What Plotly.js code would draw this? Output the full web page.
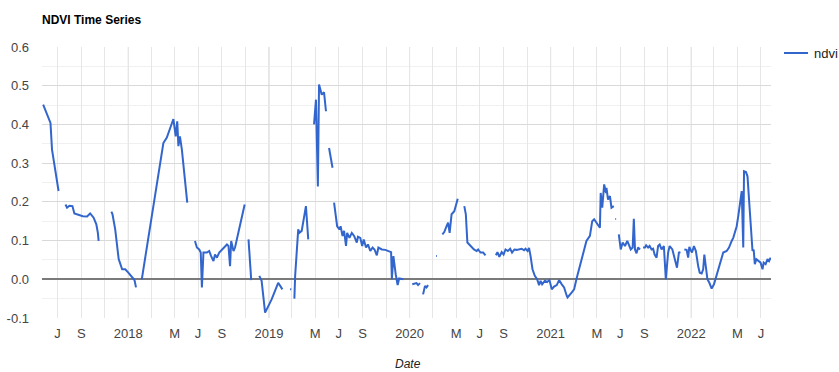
<!DOCTYPE html>
<html>
<head>
<meta charset="utf-8">
<script src="https://cdn.plot.ly/plotly-3.0.1.min.js"></script>
<style>
html,body{margin:0;padding:0;background:#fff;}
#chart{width:839px;height:372px;}
</style>
</head>
<body>
<div id="chart"></div>
<script>
// ---- data (null = gap in the series) ----
const dates = [
'2017-05-25','2017-06-13','2017-06-17','2017-07-04','2017-07-12',
'2017-07-22','2017-07-26','2017-08-01','2017-08-09','2017-08-14','2017-08-21','2017-08-28','2017-09-05','2017-09-16','2017-09-24','2017-10-03','2017-10-10','2017-10-14','2017-10-16','2017-11-01',
'2017-11-18','2017-11-21','2017-11-28','2017-12-07','2017-12-16','2017-12-24','2018-01-01','2018-01-10','2018-01-17','2018-01-21','2018-01-28',
'2018-02-05','2018-04-02','2018-04-11','2018-04-28','2018-05-04','2018-05-08','2018-05-11','2018-05-15','2018-05-20','2018-06-03','2018-06-13',
'2018-06-23','2018-06-28','2018-07-04','2018-07-08','2018-07-11','2018-07-15','2018-07-24','2018-07-30','2018-08-04','2018-08-10','2018-08-14','2018-08-19','2018-08-25','2018-09-01','2018-09-07','2018-09-14','2018-09-18','2018-09-22','2018-09-25','2018-10-01','2018-10-05','2018-10-14','2018-10-30','2018-11-04',
'2018-11-09','2018-11-16','2018-11-28',
'2018-12-07','2018-12-13','2018-12-22','2019-01-08','2019-01-25','2019-02-05','2019-02-15',
'2019-02-25','2019-02-28','2019-03-04',
'2019-03-08','2019-03-10','2019-03-18','2019-03-21','2019-03-27','2019-03-31','2019-04-07','2019-04-13','2019-04-20',
'2019-04-28','2019-05-03','2019-05-08','2019-05-11','2019-05-18','2019-05-24','2019-05-29','2019-06-02',
'2019-06-06','2019-06-15','2019-06-17',
'2019-06-19','2019-06-24','2019-06-27','2019-07-03','2019-07-06','2019-07-11','2019-07-15','2019-07-20','2019-07-23','2019-07-29','2019-08-04','2019-08-10','2019-08-17','2019-08-20','2019-08-26','2019-08-31','2019-09-04','2019-09-10','2019-09-15','2019-09-21','2019-09-27','2019-10-02','2019-10-08','2019-10-12','2019-10-21','2019-10-30','2019-11-07','2019-11-14','2019-11-16','2019-11-20','2019-11-26','2019-12-01','2019-12-05','2019-12-16','2019-12-28',
'2020-01-08','2020-01-19','2020-01-23','2020-01-28','2020-02-01',
'2020-02-05','2020-02-10','2020-02-14','2020-02-18','2020-03-01',
'2020-03-10','2020-03-12','2020-03-18',
'2020-03-26','2020-03-31','2020-04-06','2020-04-10','2020-04-14','2020-04-19','2020-04-26','2020-05-05','2020-05-14',
'2020-05-22','2020-05-26','2020-05-30','2020-06-04','2020-06-10','2020-06-16','2020-06-23','2020-06-27','2020-07-03','2020-07-10','2020-07-16','2020-08-01',
'2020-08-12','2020-08-16','2020-08-21','2020-08-27','2020-09-01','2020-09-06','2020-09-12','2020-09-18','2020-09-23','2020-09-29','2020-10-05','2020-10-12','2020-10-18','2020-10-24','2020-10-28','2020-11-02','2020-11-06','2020-11-10','2020-11-15','2020-11-21','2020-11-27','2020-12-02','2020-12-06','2020-12-10','2020-12-17','2020-12-23','2020-12-29',
'2021-01-04','2021-01-10','2021-01-17','2021-01-23','2021-01-30','2021-02-05','2021-02-12','2021-02-14','2021-02-25','2021-03-03','2021-03-09','2021-03-22','2021-04-04','2021-04-13','2021-04-19','2021-04-24','2021-04-30','2021-05-09','2021-05-11','2021-05-15','2021-05-20','2021-05-25','2021-05-26','2021-05-30','2021-06-04','2021-06-08','2021-06-14','2021-06-16',
'2021-06-18','2021-06-20','2021-06-23',
'2021-06-27','2021-07-02','2021-07-07','2021-07-13','2021-07-19','2021-07-24','2021-07-28','2021-08-02','2021-08-05','2021-08-08','2021-08-12','2021-08-16','2021-08-21','2021-08-25',
'2021-08-29','2021-09-03','2021-09-06','2021-09-11','2021-09-15','2021-09-20','2021-09-24','2021-09-28','2021-10-03','2021-10-07','2021-10-11','2021-10-16','2021-10-22','2021-10-27','2021-11-02','2021-11-06','2021-11-13','2021-11-19','2021-11-25','2021-11-30','2021-12-04','2021-12-09',
'2021-12-14','2021-12-20','2021-12-24','2021-12-27','2021-12-30','2022-01-03','2022-01-08','2022-01-13','2022-01-19','2022-01-23','2022-01-28','2022-02-01','2022-02-04','2022-02-07','2022-02-12','2022-02-17','2022-02-23','2022-03-01','2022-03-08','2022-03-16','2022-03-25','2022-04-03','2022-04-09','2022-04-16','2022-04-20','2022-04-24','2022-04-29','2022-05-03','2022-05-07','2022-05-12','2022-05-16','2022-05-18','2022-05-23','2022-05-27','2022-05-31','2022-06-05','2022-06-09','2022-06-12','2022-06-15','2022-06-19','2022-06-24','2022-06-30','2022-07-05','2022-07-08','2022-07-13','2022-07-18','2022-07-22','2022-07-26'
];
const ndvi = [
0.451,0.404,0.335,0.228,null,
0.193,0.185,0.190,0.189,0.170,0.168,0.165,0.163,0.162,0.170,0.159,0.142,0.120,0.099,null,
0.175,0.168,0.129,0.052,0.026,0.026,0.017,0.007,-0.002,-0.021,null,
0.000,0.352,0.366,0.414,0.369,0.408,0.344,0.369,0.335,0.198,null,
0.099,0.082,0.077,0.069,-0.021,0.069,0.069,0.073,0.060,0.047,0.064,0.056,0.069,0.077,0.084,0.090,0.086,0.034,0.099,0.073,0.082,0.120,0.193,null,
0.103,-0.002,null,
0.009,-0.004,-0.086,-0.052,-0.009,-0.026,null,
-0.026,-0.026,null,
-0.050,0.009,0.129,0.120,0.125,0.146,0.189,0.103,null,
0.400,0.464,0.240,0.503,0.477,0.483,0.434,null,
0.339,0.288,null,
0.198,0.163,0.137,0.129,0.137,0.112,0.125,0.086,0.120,0.107,0.120,0.112,0.095,0.110,0.107,0.086,0.103,0.082,0.090,0.073,0.082,0.077,0.062,0.082,0.077,0.076,0.073,0.070,0.000,0.060,0.013,-0.015,0.002,0.000,null,
-0.013,-0.010,-0.015,-0.010,null,
-0.039,-0.017,-0.021,-0.015,null,
0.060,0.060,null,
0.116,0.122,0.137,0.146,0.120,0.168,0.176,0.208,null,
0.189,0.168,0.095,0.090,0.082,0.077,0.073,0.077,0.069,0.069,0.062,null,
0.062,0.070,0.058,0.070,0.064,0.077,0.073,0.079,0.069,0.077,0.076,0.077,0.079,0.075,0.079,0.073,0.081,0.060,0.026,0.009,0.000,-0.015,-0.004,-0.013,-0.004,-0.007,-0.002,
-0.026,-0.019,-0.015,-0.002,-0.013,-0.021,-0.043,-0.047,-0.034,-0.026,0.000,0.052,0.099,0.112,0.150,0.155,0.146,0.133,0.223,0.185,0.245,0.223,0.236,0.206,0.215,0.185,0.189,null,
0.156,0.156,null,
0.116,0.077,0.095,0.086,0.099,0.086,0.077,0.082,0.156,0.077,0.067,0.082,0.077,null,
0.082,0.082,0.088,0.082,0.086,0.077,0.079,0.064,0.056,0.086,0.090,0.077,0.086,0.000,0.069,0.086,0.077,0.052,0.030,0.069,0.070,null,
0.077,0.076,0.056,0.084,0.077,0.069,0.086,0.073,0.034,0.017,0.015,0.026,0.064,0.039,0.000,-0.009,-0.024,-0.013,0.013,0.043,0.069,0.073,0.082,0.099,0.107,0.120,0.137,0.163,0.193,0.228,0.082,0.279,0.277,0.266,0.206,0.120,0.073,0.077,0.039,0.052,0.047,0.043,0.026,0.043,0.039,0.052,0.047,0.056
];

const tickDates = ['2017-07-01','2017-09-01','2017-11-01','2018-01-01','2018-03-01','2018-05-01','2018-07-01','2018-09-01','2018-11-01',
'2019-01-01','2019-03-01','2019-05-01','2019-07-01','2019-09-01','2019-11-01','2020-01-01','2020-03-01','2020-05-01','2020-07-01','2020-09-01','2020-11-01',
'2021-01-01','2021-03-01','2021-05-01','2021-07-01','2021-09-01','2021-11-01','2022-01-01','2022-03-01','2022-05-01','2022-07-01'];
const tickLabels = ['J','S','','2018','','M','J','S','',
'2019','','M','J','S','','2020','','M','J','S','',
'2021','','M','J','S','','2022','','M','J'];
const yearLines = ['2018-01-01','2019-01-01','2020-01-01','2021-01-01','2022-01-01'];
const yTicks = [-0.1,0.0,0.1,0.2,0.3,0.4,0.5,0.6];
const yTickLabels = ['-0.1','0.0','0.1','0.2','0.3','0.4','0.5','0.6'];
const seriesName = 'ndvi';

const FONT = 'Arial, "Liberation Sans", sans-serif';
const LINE_COLOR = '#3366cc';

const trace = {
  x: dates, y: ndvi, type: 'scatter', mode: 'lines', name: seriesName,
  connectgaps: false, showlegend: false,
  line: {color: LINE_COLOR, width: 2},
  hoverinfo: 'x+y'
};

const shapes = yearLines.map(d => ({
  type: 'line', xref: 'x', yref: 'paper', x0: d, x1: d, y0: 0, y1: 1,
  line: {color: '#cccccc', width: 1}, layer: 'between'
}));
// legend key (drawn manually so the plot area keeps its width)
const legY = 1 - 6/271;
shapes.push({type: 'line', xref: 'paper', yref: 'paper', x0: 1.0178, x1: 1.0508, y0: legY, y1: legY,
  line: {color: LINE_COLOR, width: 2}});

const layout = {
  width: 839, height: 372,
  margin: {l: 42, r: 68, t: 47, b: 54, pad: 0},
  paper_bgcolor: '#ffffff', plot_bgcolor: '#ffffff',
  font: {family: FONT, size: 13, color: '#444444'},
  title: {text: '<b>NDVI Time Series</b>', x: 0, xref: 'paper', xanchor: 'left', y: 1 - 20/372, yanchor: 'middle', font: {family: FONT, size: 12, color: '#000000'}},
  showlegend: false,
  xaxis: {
    type: 'date', range: ['2017-05-22', '2022-07-27'],
    tickmode: 'array', tickvals: tickDates, ticktext: tickLabels,
    showgrid: true, gridcolor: '#e6e6e6', gridwidth: 1,
    ticks: '', showline: false, zeroline: false,
    tickfont: {family: FONT, size: 13, color: '#444444'},
    ticklabelstandoff: 6,
    fixedrange: true
  },
  yaxis: {
    range: [-0.1, 0.6],
    tickmode: 'array', tickvals: yTicks, ticktext: yTickLabels,
    showgrid: true, gridcolor: '#d9d9d9', gridwidth: 1,
    minor: {dtick: 0.05, showgrid: true, gridcolor: '#f0f0f0', gridwidth: 1, ticks: ''},
    zeroline: true, zerolinecolor: '#7a7a7a', zerolinewidth: 2,
    ticks: '', showline: false,
    tickfont: {family: FONT, size: 13, color: '#444444'},
    ticklabelstandoff: 12,
    fixedrange: true
  },
  shapes: shapes,
  annotations: [{
    text: '<i>Date</i>', xref: 'paper', yref: 'paper', x: 0.502, y: -46/271,
    xanchor: 'center', yanchor: 'middle', showarrow: false,
    font: {family: FONT, size: 12, color: '#222222'}
  }, {
    text: seriesName, xref: 'paper', yref: 'paper', x: 1.0562, y: legY,
    xanchor: 'left', yanchor: 'middle', showarrow: false,
    font: {family: FONT, size: 13, color: '#222222'}
  }]
};

Plotly.newPlot('chart', [trace], layout, {displayModeBar: false, staticPlot: true});
</script>
</body>
</html>
